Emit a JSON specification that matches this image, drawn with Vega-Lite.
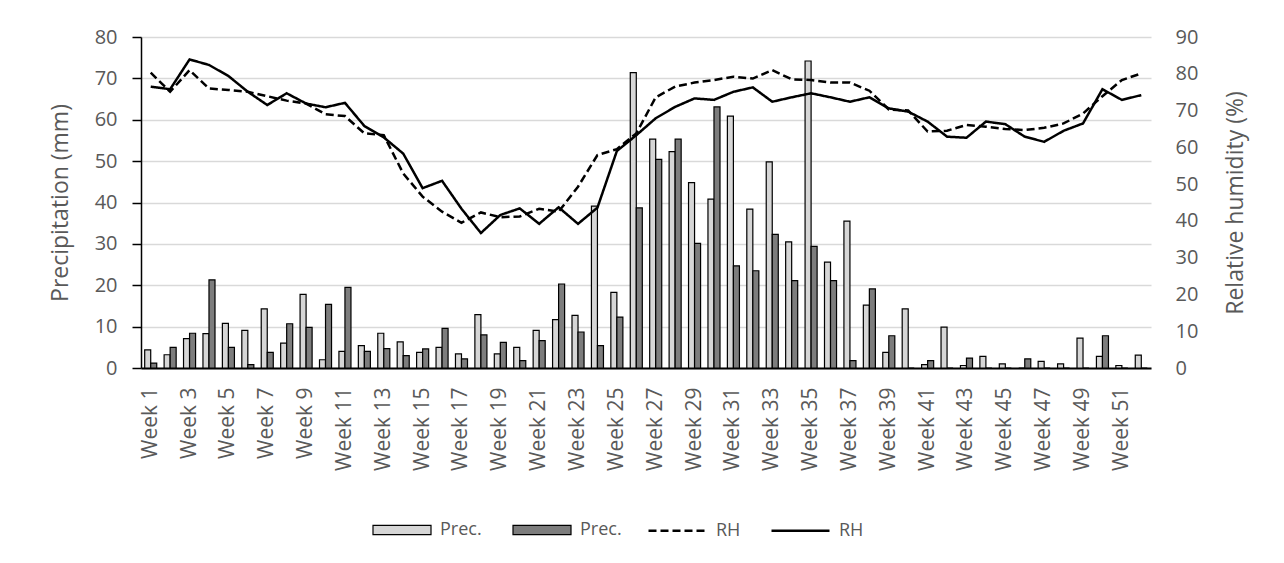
{
  "$schema": "https://vega.github.io/schema/vega-lite/v6.json",
  "width": 1010,
  "height": 331,
  "autosize": {"type": "none"},
  "padding": {"left": 141, "top": 37, "right": 133, "bottom": 195},
  "background": "white",
  "config": {
    "view": {"stroke": null},
    "font": "Open Sans"
  },
  "data": {
    "values": [
      {"wk": 1, "p1": 4.4, "p2": 1.2, "rh1": 80.3, "rh2": 76.5},
      {"wk": 2, "p1": 3.2, "p2": 5.0, "rh1": 75.1, "rh2": 75.8},
      {"wk": 3, "p1": 7.1, "p2": 8.4, "rh1": 81.0, "rh2": 83.9},
      {"wk": 4, "p1": 8.3, "p2": 21.3, "rh1": 76.0, "rh2": 82.4},
      {"wk": 5, "p1": 10.8, "p2": 5.0, "rh1": 75.6, "rh2": 79.4},
      {"wk": 6, "p1": 9.1, "p2": 0.8, "rh1": 75.1, "rh2": 75.1},
      {"wk": 7, "p1": 14.3, "p2": 3.8, "rh1": 73.9, "rh2": 71.5},
      {"wk": 8, "p1": 6.0, "p2": 10.7, "rh1": 72.7, "rh2": 74.7},
      {"wk": 9, "p1": 17.8, "p2": 9.8, "rh1": 71.9, "rh2": 71.9},
      {"wk": 10, "p1": 2.0, "p2": 15.4, "rh1": 69.0, "rh2": 70.9},
      {"wk": 11, "p1": 4.0, "p2": 19.5, "rh1": 68.5, "rh2": 72.1},
      {"wk": 12, "p1": 5.4, "p2": 4.0, "rh1": 63.8, "rh2": 65.8},
      {"wk": 13, "p1": 8.4, "p2": 4.7, "rh1": 63.3, "rh2": 62.7},
      {"wk": 14, "p1": 6.3, "p2": 3.0, "rh1": 52.9, "rh2": 58.3},
      {"wk": 15, "p1": 3.8, "p2": 4.6, "rh1": 46.6, "rh2": 48.9},
      {"wk": 16, "p1": 5.0, "p2": 9.6, "rh1": 42.5, "rh2": 50.9},
      {"wk": 17, "p1": 3.4, "p2": 2.2, "rh1": 39.5, "rh2": 43.3},
      {"wk": 18, "p1": 12.9, "p2": 8.0, "rh1": 42.3, "rh2": 36.7},
      {"wk": 19, "p1": 3.4, "p2": 6.2, "rh1": 41.0, "rh2": 41.6},
      {"wk": 20, "p1": 5.0, "p2": 1.8, "rh1": 41.2, "rh2": 43.4},
      {"wk": 21, "p1": 9.1, "p2": 6.6, "rh1": 43.3, "rh2": 39.2},
      {"wk": 22, "p1": 11.7, "p2": 20.3, "rh1": 42.5, "rh2": 43.7},
      {"wk": 23, "p1": 12.7, "p2": 8.7, "rh1": 49.3, "rh2": 39.2},
      {"wk": 24, "p1": 39.1, "p2": 5.4, "rh1": 57.9, "rh2": 43.6},
      {"wk": 25, "p1": 18.3, "p2": 12.3, "rh1": 59.5, "rh2": 59.0},
      {"wk": 26, "p1": 71.4, "p2": 38.7, "rh1": 63.8, "rh2": 63.3},
      {"wk": 27, "p1": 55.3, "p2": 50.4, "rh1": 73.6, "rh2": 67.9},
      {"wk": 28, "p1": 52.3, "p2": 55.3, "rh1": 76.5, "rh2": 71.0},
      {"wk": 29, "p1": 44.8, "p2": 30.1, "rh1": 77.6, "rh2": 73.3},
      {"wk": 30, "p1": 40.8, "p2": 63.1, "rh1": 78.3, "rh2": 72.9},
      {"wk": 31, "p1": 60.9, "p2": 24.7, "rh1": 79.2, "rh2": 75.1},
      {"wk": 32, "p1": 38.4, "p2": 23.5, "rh1": 78.7, "rh2": 76.3},
      {"wk": 33, "p1": 49.8, "p2": 32.3, "rh1": 81.0, "rh2": 72.4},
      {"wk": 34, "p1": 30.5, "p2": 21.1, "rh1": 78.5, "rh2": 73.6},
      {"wk": 35, "p1": 74.2, "p2": 29.4, "rh1": 78.3, "rh2": 74.7},
      {"wk": 36, "p1": 25.6, "p2": 21.1, "rh1": 77.6, "rh2": 73.6},
      {"wk": 37, "p1": 35.5, "p2": 1.8, "rh1": 77.6, "rh2": 72.4},
      {"wk": 38, "p1": 15.2, "p2": 19.1, "rh1": 75.4, "rh2": 73.6},
      {"wk": 39, "p1": 3.8, "p2": 7.8, "rh1": 70.3, "rh2": 70.6},
      {"wk": 40, "p1": 14.3, "p2": 0, "rh1": 70.0, "rh2": 69.7},
      {"wk": 41, "p1": 0.8, "p2": 1.8, "rh1": 64.3, "rh2": 67.0},
      {"wk": 42, "p1": 9.9, "p2": 0, "rh1": 64.5, "rh2": 62.9},
      {"wk": 43, "p1": 0.6, "p2": 2.4, "rh1": 66.1, "rh2": 62.6},
      {"wk": 44, "p1": 2.8, "p2": 0, "rh1": 65.6, "rh2": 67.0},
      {"wk": 45, "p1": 1.0, "p2": 0, "rh1": 65.0, "rh2": 66.3},
      {"wk": 46, "p1": 0, "p2": 2.2, "rh1": 64.7, "rh2": 62.9},
      {"wk": 47, "p1": 1.6, "p2": 0, "rh1": 65.3, "rh2": 61.5},
      {"wk": 48, "p1": 1.0, "p2": 0, "rh1": 66.5, "rh2": 64.5},
      {"wk": 49, "p1": 7.2, "p2": 0, "rh1": 69.2, "rh2": 66.5},
      {"wk": 50, "p1": 2.8, "p2": 7.8, "rh1": 73.9, "rh2": 75.8},
      {"wk": 51, "p1": 0.6, "p2": 0, "rh1": 78.3, "rh2": 72.9},
      {"wk": 52, "p1": 3.1, "p2": 0, "rh1": 80.1, "rh2": 74.2}
    ]
  },
  "resolve": {"scale": {"y": "independent"}},
  "encoding": {
    "x": {
      "field": "wk",
      "type": "ordinal",
      "scale": {"paddingInner": 0.38, "paddingOuter": 0.19},
      "axis": {
        "title": null,
        "values": [1,3,5,7,9,11,13,15,17,19,21,23,25,27,29,31,33,35,37,39,41,43,45,47,49,51],
        "labelExpr": "'Week ' + datum.value",
        "labelAngle": 270,
        "labelFont": "Open Sans",
        "labelFontSize": 21,
        "labelColor": "#595959",
        "labelPadding": 19,
        "ticks": false,
        "tickSize": 0,
        "domainColor": "black",
        "domainWidth": 2,
        "grid": false
      }
    }
  },
  "layer": [
    {
      "transform": [{"fold": ["p1", "p2"], "as": ["pk", "pv"]}],
      "mark": {"type": "bar", "stroke": "black", "strokeWidth": 1.2},
      "encoding": {
        "xOffset": {"field": "pk", "type": "nominal", "sort": ["p1", "p2"]},
        "y": {
          "field": "pv",
          "type": "quantitative",
          "scale": {"domain": [0, 80], "nice": false},
          "axis": {
            "title": "Precipitation (mm)",
            "values": [0,10,20,30,40,50,60,70,80],
            "grid": true,
            "gridColor": "#d9d9d9",
            "gridWidth": 1.5,
            "domainColor": "black",
            "domainWidth": 1.5,
            "tickColor": "black",
            "tickWidth": 1.5,
            "tickSize": 9,
            "labelPadding": 15,
            "labelFont": "Open Sans",
            "labelFontSize": 20,
            "labelColor": "#595959",
            "titleFont": "Open Sans",
            "titleFontSize": 23,
            "titleFontWeight": "normal",
            "titleColor": "#595959",
            "titlePadding": 22
          }
        },
        "fill": {
          "field": "pk",
          "type": "nominal",
          "scale": {"domain": ["p1", "p2"], "range": ["#d6d6d6", "#7d7d7d"]},
          "legend": {
            "title": null,
            "orient": "none",
            "legendX": 231,
            "legendY": 463,
            "direction": "horizontal",
            "padding": 0,
            "symbolType": "M-1,-0.16H1V0.16H-1Z",
            "symbolSize": 3364,
            "symbolStrokeColor": "black",
            "symbolStrokeWidth": 1.2,
            "labelExpr": "'Prec.'",
            "labelFont": "Open Sans",
            "labelFontSize": 18,
            "labelColor": "#595959",
            "labelOffset": 8,
            "columnPadding": 28
          }
        }
      }
    },
    {
      "transform": [{"fold": ["rh1", "rh2"], "as": ["rk", "rv"]}],
      "mark": {"type": "line", "color": "black", "strokeWidth": 2.5},
      "encoding": {
        "y": {
          "field": "rv",
          "type": "quantitative",
          "scale": {"domain": [0, 90], "nice": false},
          "axis": {
            "orient": "right",
            "title": "Relative humidity (%)",
            "values": [0,10,20,30,40,50,60,70,80,90],
            "grid": false,
            "domain": false,
            "ticks": false,
            "tickSize": 0,
            "labelPadding": 24,
            "labelFont": "Open Sans",
            "labelFontSize": 20,
            "labelColor": "#595959",
            "titleFont": "Open Sans",
            "titleFontSize": 23,
            "titleFontWeight": "normal",
            "titleColor": "#595959",
            "titleAngle": 270,
            "titlePadding": 50
          }
        },
        "strokeDash": {
          "field": "rk",
          "type": "nominal",
          "scale": {"domain": ["rh1", "rh2"], "range": [[8, 4], [1, 0]]},
          "legend": {
            "title": null,
            "orient": "none",
            "legendX": 506,
            "legendY": 463,
            "direction": "horizontal",
            "padding": 0,
            "symbolType": "stroke",
            "symbolSize": 3364,
            "symbolStrokeColor": "black",
            "symbolStrokeWidth": 2.5,
            "labelExpr": "'RH'",
            "labelFont": "Open Sans",
            "labelFontSize": 18,
            "labelColor": "#595959",
            "labelOffset": 8,
            "columnPadding": 25
          }
        }
      }
    }
  ]
}
